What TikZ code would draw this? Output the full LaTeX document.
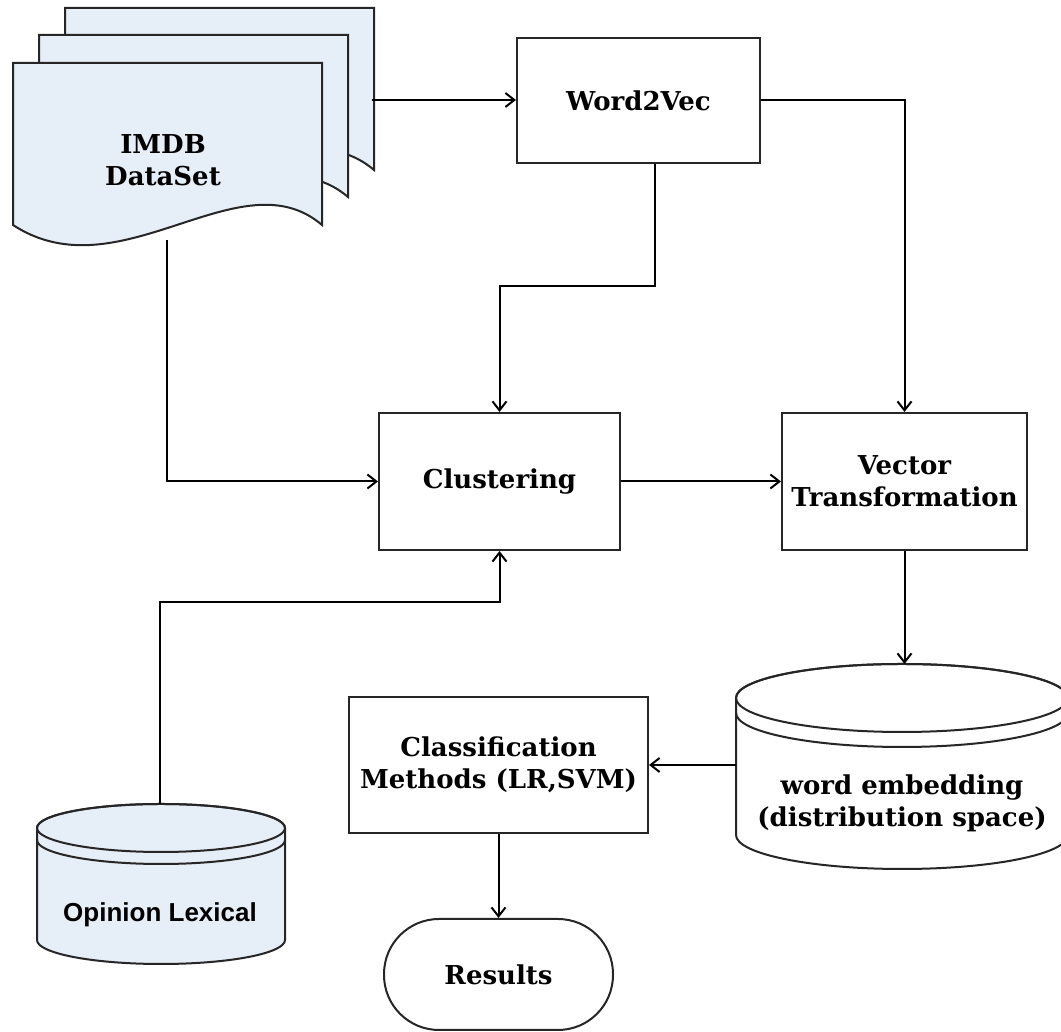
\documentclass[tikz,border=0pt]{standalone}
\usepackage{fontspec}
\setmainfont{DejaVu Serif}
\newfontfamily\lexfont{Liberation Sans}
\usetikzlibrary{arrows.meta}

\def\docPath{(13,969) -- (322,969) -- (322,807) .. controls (240,877) and (120,737) .. (13,807) -- cycle}
\newcommand{\drum}[7]{% centre x, top y, bottom y, x radius, y radius, gap, style
  \path[#7] (#1-#4,#2) -- (#1-#4,#3) arc[start angle=180, end angle=360, x radius=#4, y radius=#5]
    -- (#1+#4,#2) arc[start angle=0, end angle=180, x radius=#4, y radius=#5] -- cycle;
  \path[outline] (#1,#2) ellipse [x radius=#4, y radius=#5];
  \path[outline] (#1-#4,#2-#6) arc[start angle=180, end angle=360, x radius=#4, y radius=#5];
}
\definecolor{paleblue}{RGB}{230,238,248}
\colorlet{shape edge}{black!85}
\colorlet{doc area}{paleblue}
\tikzset{
  filled/.style={fill=doc area, draw=shape edge, line width=2pt},
  outline/.style={draw=shape edge, line width=2pt},
  plain/.style={fill=white, draw=shape edge, line width=2pt},
  label text/.style={align=center, font=\bfseries\fontsize{26}{32}\selectfont},
  block/.style={plain, label text, inner sep=0pt}
  }
\tikzstyle{edge} = [draw, line width=2pt, -{Straight Barb[length=9pt,width=14pt]}]

\begin{document}
\begin{tikzpicture}[x=1pt, y=1pt]
  \useasboundingbox (0,0) rectangle (1061,1032);

  % stacked documents
  \foreach \dx/\dy in {52/55, 26/28, 0/0} {
    \path[filled, shift={(\dx,\dy)}] \docPath;
  }
  \node[label text] (imdb) at (163,872) {IMDB\\DataSet};
  \coordinate (docR) at (372,932);
  \coordinate (docB) at (167,792);

  % process boxes
  \node[block, minimum width=243, minimum height=125] (w2v) at (638.5,931.5) {Word2Vec};
  \node[block, minimum width=241, minimum height=137] (clust) at (499.5,550.5) {Clustering};
  \node[block, minimum width=245, minimum height=137] (vec) at (904.5,550.5) {Vector\\Transformation};
  \node[block, minimum width=299, minimum height=136] (classif) at (498.5,267) {Classification\\Methods (LR,SVM)};
  \node[block, rounded corners=55, minimum width=229, minimum height=111] (res) at (498.5,57.5) {Results};

  % databases
  \drum{902}{334}{197}{166}{34}{15}{plain}
  \node[label text] (emb) at (902,229) {word embedding\\(distribution space)};
  \coordinate (embTop) at (902,368);
  \coordinate (embL) at (736,267);

  \drum{161}{204}{92}{124}{24}{12}{filled}
  \node[font=\lexfont\bfseries\fontsize{26}{30}\selectfont] (lex) at (160,117) {Opinion Lexical};
  \coordinate (lexTop) at (160,228);

  % connectors
  \path[edge] (docR) -- (docR -| w2v.west);
  \path[edge] ([xshift=16]w2v.south) -- ++(0,-122) -| (clust.north);
  \path[edge] (w2v.east) -| (vec.north);
  \path[edge] (docB) |- (clust.west);
  \path[edge] (clust.east) -- (vec.west);
  \path[edge] (vec.south) -- (vec.south |- embTop);
  \path[edge] (embL) -- (classif.east);
  \path[edge] (classif.south) -- (res.north);
  \path[edge] (lexTop) -- ++(0,202) -| (clust.south);
\end{tikzpicture}
\end{document}
